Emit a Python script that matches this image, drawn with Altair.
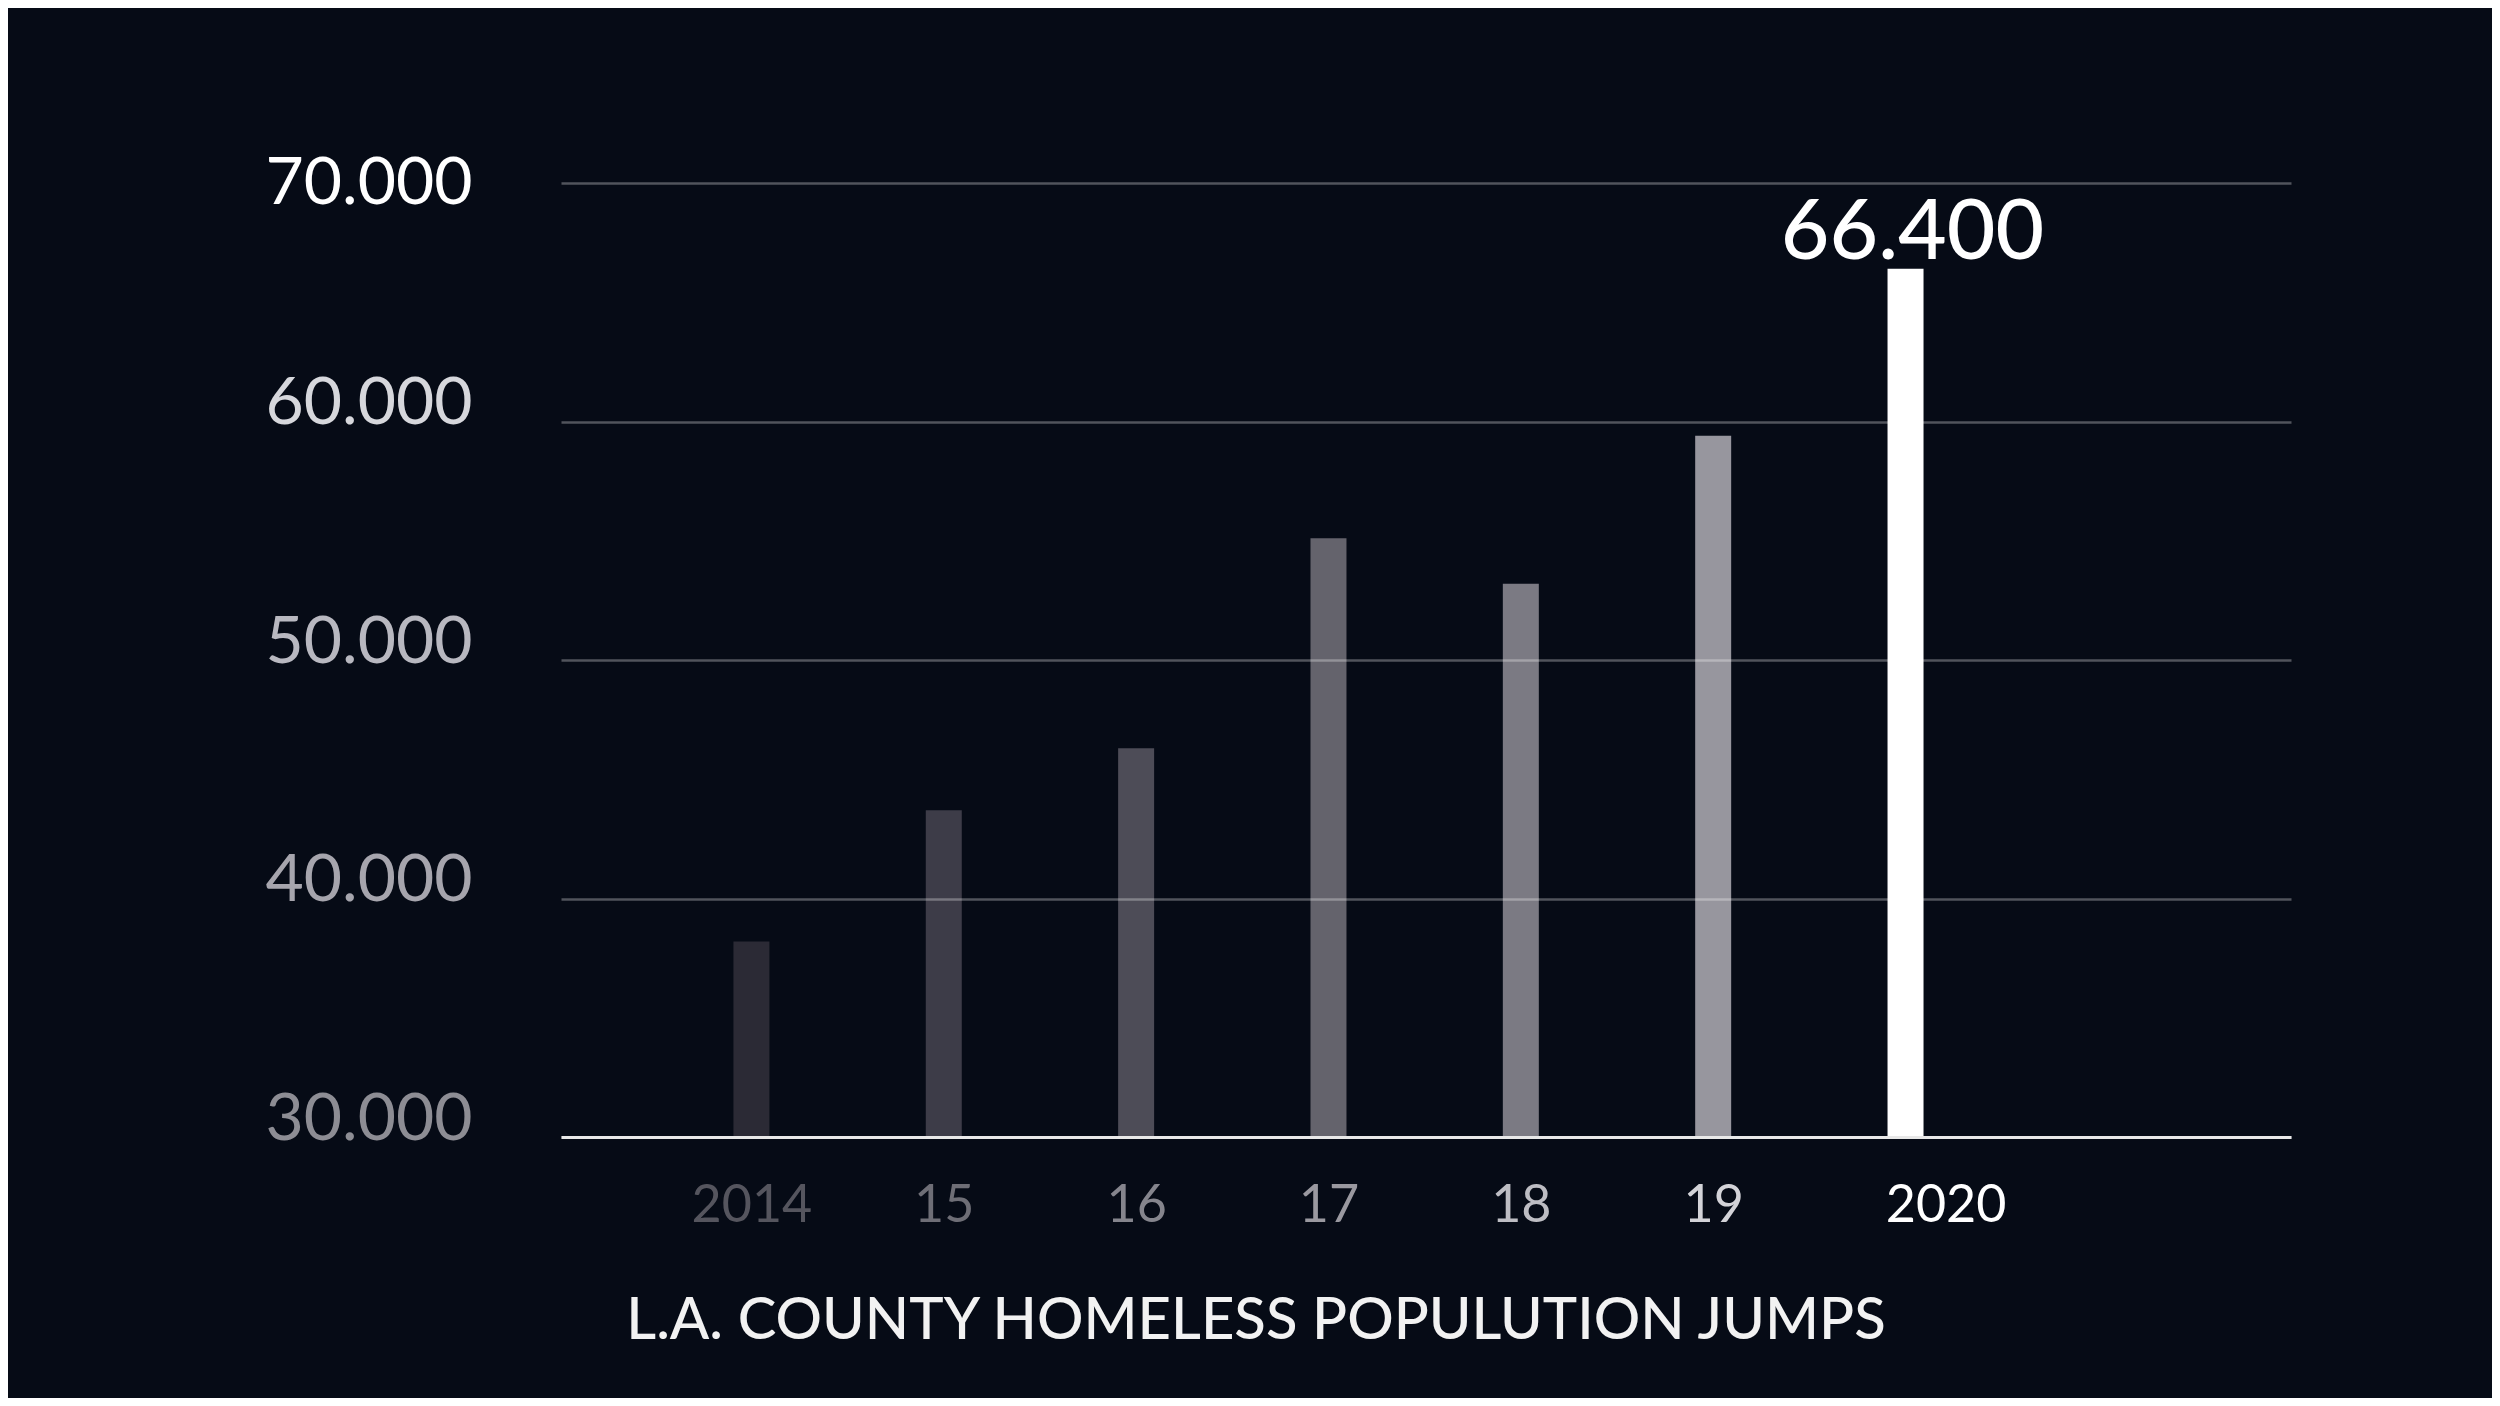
import altair as alt
import pandas as pd

# ---- data ----
years = [2014, 2015, 2016, 2017, 2018, 2019, 2020]
tick_labels = ["2014", "15", "16", "17", "18", "19", "2020"]
homeless = [38200, 43700, 46300, 55100, 53200, 59400, 66400]
y_ticks = [30000, 40000, 50000, 60000, 70000]
title_text = "L.A. COUNTY HOMELESS POPULUTION JUMPS"

# ---- styles ----
FONT = "Lato"
BG = "#060b16"
bar_colors = ["#2b2a35", "#3d3c48", "#4d4c57", "#64636c", "#7b7a83", "#97969e", "#ffffff"]
xlabel_colors = ["#55555e", "#6e6e76", "#85858d", "#9a99a0", "#bdbdc3", "#d3d3d8", "#ffffff"]
ylabel_colors = ["#8d8d94", "#a6a5ad", "#b8b8c0", "#d6d7dc", "#ffffff"]

df = pd.DataFrame({"year": years, "count": homeless})

label_array = "[" + ",".join(f"'{t}'" for t in tick_labels) + "]"
x_label_expr = f"{label_array}[datum.value - {years[0]}]"

x_color_cond = {
    "condition": [{"test": f"datum.value == {y}", "value": c} for y, c in zip(years, xlabel_colors)],
    "value": "#888888",
}
y_color_cond = {
    "condition": [{"test": f"datum.value == {v}", "value": c} for v, c in zip(y_ticks, ylabel_colors)],
    "value": "#999999",
}

x_scale = alt.Scale(domain=[2013.036, 2021.978], nice=False, zero=False)
y_scale = alt.Scale(domain=[30000, 70000], nice=False, zero=False)

x_axis = alt.Axis(
    values=years,
    labelExpr=x_label_expr,
    labelFont=FONT,
    labelFontSize=52,
    labelFontWeight=400,
    labelColor=x_color_cond,
    labelOffset={"condition": {"test": "datum.value == 2020", "value": 40}, "value": 0},
    labelPadding=43,
    labelBaseline="top",
    labelLimit=0,
    ticks=False,
    grid=False,
    domain=True,
    domainColor="#e8e8e8",
    domainWidth=3,
    title=None,
    zindex=2,
)

y_axis = alt.Axis(
    values=y_ticks,
    labelExpr="replace(format(datum.value, ','), ',', '.')",
    labelFont=FONT,
    labelFontSize=66,
    labelFontWeight=400,
    labelColor=y_color_cond,
    labelOffset={"condition": {"test": "datum.value == 70000", "value": 0}, "value": -18},
    labelPadding=89,
    labelBaseline="middle",
    labelLimit=0,
    ticks=False,
    domain=False,
    grid=True,
    gridColor="#ffffff",
    gridOpacity=0.3,
    gridWidth=2.5,
    title=None,
    zindex=1,
)

base = alt.Chart(df)

bars = base.mark_bar(size=36, clip=True).encode(
    x=alt.X("year:Q", scale=x_scale, axis=x_axis),
    y=alt.Y("count:Q", scale=y_scale, axis=y_axis),
    color=alt.Color("year:O", scale=alt.Scale(domain=years, range=bar_colors), legend=None),
)

value_label = (
    base.transform_filter(f"datum.year == {years[-1]}")
    .transform_calculate(txt="replace(format(datum.count, ','), ',', '.')")
    .mark_text(font=FONT, fontSize=84, fontWeight=500, color="#ffffff", baseline="alphabetic", dy=-10, dx=7)
    .encode(x=alt.X("year:Q", scale=x_scale), y=alt.Y("count:Q", scale=y_scale), text="txt:N")
)

chart = (
    alt.layer(bars, value_label)
    .properties(
        width=1730,
        height=954,
        autosize="none",
        padding={"left": 553, "top": 175, "right": 201, "bottom": 261},
        background=BG,
        title=alt.TitleParams(
            title_text,
            orient="bottom",
            anchor="middle",
            frame="group",
            font=FONT,
            fontSize=58,
            fontWeight=500,
            color="#f2f2f2",
            dx=-170,
            offset=62,
        ),
    )
    .configure_view(stroke=None)
)

chart.save("out.html", embed_options={"renderer": "svg", "actions": False})
